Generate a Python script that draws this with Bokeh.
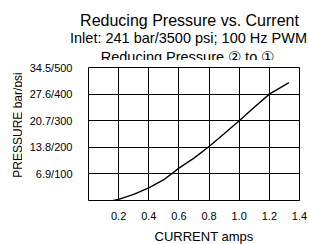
import math
from bokeh.plotting import figure
from bokeh.models import FixedTicker, Label, NumeralTickFormatter
from bokeh.layouts import column, row
from bokeh.embed import file_html
from bokeh.resources import INLINE

current = [0.165, 0.2, 0.3, 0.4, 0.5, 0.6, 0.7, 0.8, 0.9, 1.0, 1.1, 1.2, 1.33]
pressure = [0.0, 0.3, 1.6, 3.3, 5.4, 8.4, 11.0, 14.0, 17.3, 20.7, 24.2, 27.6, 30.6]

x_ticks = [0.2, 0.4, 0.6, 0.8, 1.0, 1.2, 1.4]
y_ticks = [0, 6.9, 13.8, 20.7, 27.6, 34.5]
y_tick_labels = ["", "6.9/100", "13.8/200", "20.7/300", "27.6/400", "34.5/500"]

title_lines = ["Reducing Pressure vs. Current",
               "Inlet: 241 bar/3500 psi; 100 Hz PWM",
               "Reducing Pressure \u2461 to \u2460"]
x_label = "CURRENT amps"
y_label = "PRESSURE bar/psi"

FONT = "Liberation Sans"
W = 309
TITLE_H = 60
MID_H = 162
XLAB_H = 22
YLAB_W = 22


def text_panel(width, height):
    f = figure(width=width, height=height, output_backend="svg", toolbar_location=None,
               x_range=(0, width), y_range=(0, height),
               x_axis_location=None, y_axis_location=None,
               min_border_left=0, min_border_right=0, min_border_top=0, min_border_bottom=0)
    f.outline_line_color = None
    f.xgrid.visible = False
    f.ygrid.visible = False
    f.background_fill_color = "white"
    f.border_fill_color = "white"
    return f


# title block (three centred lines)
tf = text_panel(W, TITLE_H)
for txt, cx, base, fs in zip(title_lines, [189, 188, 187], [20, 37.7, 56], ["16px", "14.5px", "14.5px"]):
    tf.add_layout(Label(x=cx, y=TITLE_H - base, text=txt, text_align="center",
                        text_baseline="alphabetic", text_font=FONT, text_font_size=fs,
                        text_color="black"))

# vertical y-axis title
yf = text_panel(YLAB_W, MID_H)
yf.add_layout(Label(x=17.5, y=MID_H - 70, text=y_label, text_align="center",
                    text_baseline="middle", angle=math.pi / 2, text_font=FONT,
                    text_font_size="12px", text_color="black"))

# main chart
p = figure(width=W - YLAB_W, height=MID_H, output_backend="svg", toolbar_location=None,
           x_range=(0, 1.4), y_range=(0, 34.5),
           min_border_left=66, min_border_right=10, min_border_top=7, min_border_bottom=19)
p.outline_line_color = "black"
p.outline_line_width = 1
p.background_fill_color = "white"
p.border_fill_color = "white"

p.xaxis.ticker = FixedTicker(ticks=x_ticks)
p.xaxis.formatter = NumeralTickFormatter(format="0.0")
p.yaxis.ticker = FixedTicker(ticks=y_ticks)
p.yaxis.major_label_overrides = {t: l for t, l in zip(y_ticks, y_tick_labels)}
for ax in (p.xaxis, p.yaxis):
    ax.axis_line_color = None
    ax.major_tick_line_color = None
    ax.minor_tick_line_color = None
    ax.major_label_text_font = FONT
    ax.major_label_text_font_size = "11px"
    ax.major_label_text_color = "black"
p.xaxis.major_label_standoff = 5
p.yaxis.major_label_standoff = 10

p.xgrid.ticker = FixedTicker(ticks=x_ticks)
p.ygrid.ticker = FixedTicker(ticks=y_ticks)
for g in (p.xgrid, p.ygrid):
    g.grid_line_color = "black"
    g.grid_line_width = 1
    g.grid_line_alpha = 1.0

p.line(current, pressure, line_color="black", line_width=1.4)
p.add_layout(Label(x=0.7, y=17, text=" ", text_font=FONT, text_font_size="11px"))

# x-axis title
xf = text_panel(W, XLAB_H)
xf.add_layout(Label(x=203.5, y=XLAB_H - 14, text=x_label, text_align="center",
                    text_baseline="alphabetic", text_font=FONT, text_font_size="13px",
                    text_color="black"))

layout = column(tf, row(yf, p, spacing=0), xf, spacing=0)

open("out.html", "w").write(file_html(layout, INLINE))
